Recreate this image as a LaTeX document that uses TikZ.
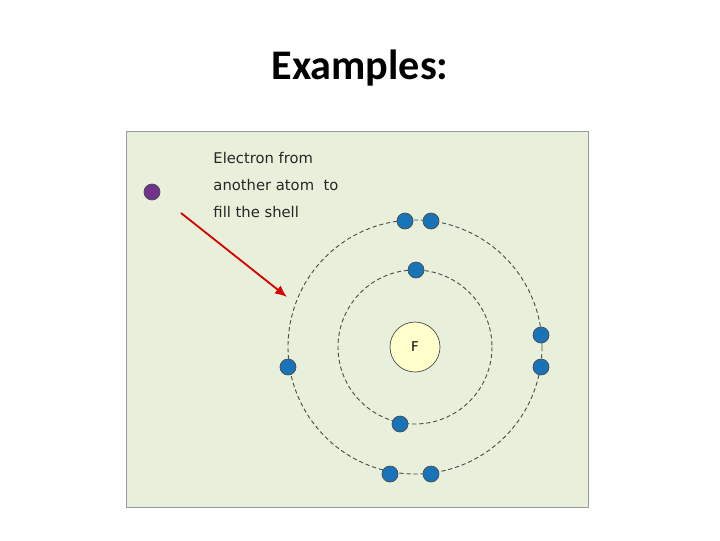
\documentclass[tikz,border=0pt]{standalone}
\usepackage{fontspec}
\setmainfont{Carlito}
\setsansfont{DejaVu Sans}
\usetikzlibrary{arrows.meta}
\begin{document}
\begin{tikzpicture}[>={Latex[length=6mm,width=5mm]}, x=0.5mm, y=-0.5mm]

\definecolor{panelg}{rgb}{0.91,0.94,0.86}
\definecolor{shellb}{rgb}{0.1,0.45,0.72}
\definecolor{nucy}{rgb}{1,1,0.8}
\definecolor{extrap}{rgb}{0.45,0.2,0.55}

\tikzset{electron/.style={circle, draw=black!70, fill=shellb, minimum size=8mm, inner sep=0pt, line width=1pt},
         orbit/.style={dash pattern=on 6pt off 4pt, black!70, line width=1.3pt}}

\useasboundingbox (0,0) rectangle (720,540);

\node[font=\bfseries\fontsize{60}{70}\selectfont] (title) at (360,68) {Examples:};

\draw[fill=panelg, draw=black!40, line width=1pt] (126,131) rectangle (588,507);

\coordinate (c) at (415,347);
\draw[orbit] (c) circle (77);
\draw[orbit] (c) circle (127);

\node[circle, draw=black!70, fill=nucy, minimum size=25mm, inner sep=0pt, line width=1pt, font=\sffamily\fontsize{19}{22}\selectfont] (nuc) at (c) {F};

% inner shell
\node[electron] (i1) at (416,270) {};
\node[electron] (i2) at (400,424) {};

% outer shell
\node[electron] (o1) at (405,221) {};
\node[electron] (o2) at (431,221) {};
\node[electron] (o3) at (541,335) {};
\node[electron] (o4) at (541,367) {};
\node[electron] (o5) at (288,367) {};
\node[electron] (o6) at (390,474) {};
\node[electron] (o7) at (431,474) {};

\node[electron, fill=extrap] (extra) at (152,192) {};

\node[anchor=north west, align=left, font=\sffamily\fontsize{21}{38.5}\selectfont, text=black!85] (lab) at (211,150) {Electron from\\another atom\ \ to\\fill the shell};

\coordinate (tip) at (287,297);
\coordinate (tail) at (181,213);
\draw[->, red!85!black, line width=2.6pt] (tail) -- (tip);

\end{tikzpicture}
\end{document}
